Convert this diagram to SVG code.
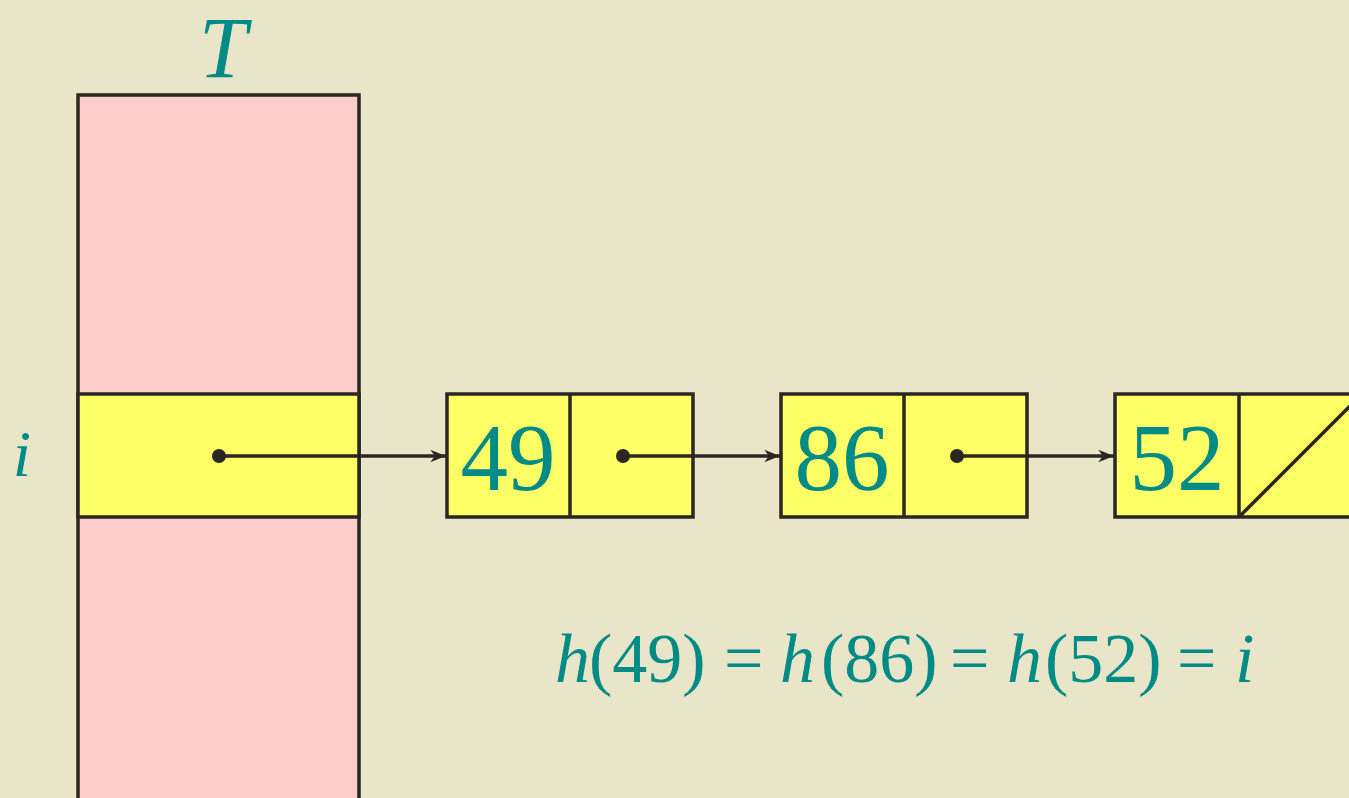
<svg xmlns="http://www.w3.org/2000/svg" width="1349" height="798" viewBox="0 0 1349 798">
<defs>
<style>
.box{stroke:#2B2622;stroke-width:3.5;}
.pink{fill:#FFCCCC;}
.yel{fill:#FFFF66;}
.ln{stroke:#2B2622;stroke-width:3.5;fill:none;}
.num{font-family:"Liberation Serif",serif;fill:#008B87;}
.it{font-style:italic;}
</style>
<marker id="ah" viewBox="0 0 10 10" refX="10" refY="5" markerWidth="4.5" markerHeight="4.5" orient="auto" markerUnits="strokeWidth">
<path d="M0,1 L10,5 L0,9 L3,5 Z" fill="#2B2622"/>
</marker>
</defs>
<rect x="0" y="0" width="1349" height="798" fill="#E9E5C9"/>
<g id="table">
<rect class="box pink" x="78" y="95" width="281" height="720"/>
<rect class="box yel" x="78" y="394" width="281" height="123"/>
<text class="num it" x="223" y="77" font-size="86" text-anchor="middle">T</text>
<text class="num it" x="22" y="476" font-size="66" text-anchor="middle">i</text>
</g>
<g id="node49">
<rect class="box yel" x="447" y="394" width="246" height="123"/>
<line class="ln" x1="570" y1="394" x2="570" y2="517"/>
<text class="num" x="508" y="490" font-size="95" text-anchor="middle">49</text>
</g>
<g id="node86">
<rect class="box yel" x="781" y="394" width="246" height="123"/>
<line class="ln" x1="904" y1="394" x2="904" y2="517"/>
<text class="num" x="842" y="490" font-size="95" text-anchor="middle">86</text>
</g>
<g id="node52">
<rect class="box yel" x="1115" y="394" width="246" height="123"/>
<line class="ln" x1="1239" y1="394" x2="1239" y2="517"/>
<line class="ln" x1="1239" y1="517" x2="1362" y2="394"/>
<text class="num" x="1177" y="490" font-size="95" text-anchor="middle">52</text>
</g>
<g id="connectors">
<circle cx="219" cy="456" r="7" fill="#2B2622"/>
<line class="ln" x1="219" y1="456" x2="446" y2="456" marker-end="url(#ah)"/>
<circle cx="623" cy="456" r="7" fill="#2B2622"/>
<line class="ln" x1="623" y1="456" x2="780" y2="456" marker-end="url(#ah)"/>
<circle cx="957" cy="456" r="7" fill="#2B2622"/>
<line class="ln" x1="957" y1="456" x2="1114" y2="456" marker-end="url(#ah)"/>
</g>
<g id="equation">
<text class="num" y="682" font-size="70"><tspan class="it" x="555">h</tspan><tspan x="589">(49)</tspan><tspan x="724">=</tspan><tspan class="it" x="780">h</tspan><tspan x="821">(86)</tspan><tspan x="950">=</tspan><tspan class="it" x="1007">h</tspan><tspan x="1045">(52)</tspan><tspan x="1177">=</tspan><tspan class="it" x="1235">i</tspan></text>
</g>
</svg>
